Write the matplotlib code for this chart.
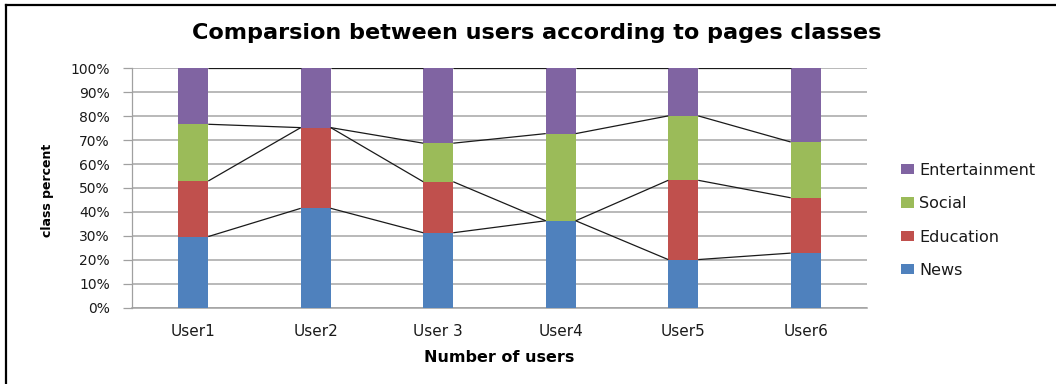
import matplotlib
matplotlib.use("Agg")
import matplotlib.pyplot as plt
from matplotlib.lines import Line2D
import numpy as np

# Share of visited pages per class (percent of each user's total)
users = ["User1", "User2", "User 3", "User4", "User5", "User6"]
news = [29.7, 41.5, 31.3, 36.3, 20.1, 22.8]
education = [23.2, 33.7, 21.3, 0.0, 33.1, 23.1]
social = [23.7, 0.0, 16.1, 36.4, 26.9, 23.3]
entertainment = [23.4, 24.8, 31.3, 27.3, 19.9, 30.8]

series_names = ["News", "Education", "Social", "Entertainment"]
series_colors = ["#4F81BD", "#C0504D", "#9BBB59", "#8064A2"]
y_ticks = [0, 10, 20, 30, 40, 50, 60, 70, 80, 90, 100]
y_tick_labels = [f"{t}%" for t in y_ticks]

fig = plt.figure(figsize=(10.56, 3.84), dpi=100)
ax = fig.add_axes([0.125, 0.1987, 0.696, 0.6236])

x = np.arange(len(users))
bar_w = 0.245
series = [news, education, social, entertainment]

# stacked columns
bottom = np.zeros(len(users))
tops = []
for vals, name, col in zip(series, series_names, series_colors):
    vals = np.asarray(vals, dtype=float)
    ax.bar(x, vals, bar_w, bottom=bottom, color=col, label=name, zorder=3,
           linewidth=0)
    bottom = bottom + vals
    tops.append(bottom.copy())

# series lines joining the top of each segment between neighbouring columns
for top in tops:
    for i in range(len(users) - 1):
        ax.plot([x[i] + bar_w / 2, x[i + 1] - bar_w / 2], [top[i], top[i + 1]],
                color="#1a1a1a", lw=0.9, zorder=4, solid_capstyle="butt")

ax.set_xlim(-0.5, len(users) - 0.5)
ax.set_ylim(0, 100)
ax.set_yticks(y_ticks)
ax.set_yticklabels(y_tick_labels, fontsize=10, family="DejaVu Sans", color="#1a1a1a")
ax.set_xticks(x)
ax.set_xticklabels(users, fontsize=11, family="DejaVu Sans", color="#1a1a1a")
ax.tick_params(axis="y", length=6.5, width=0.9, color="#a0a0a0", pad=9.5)
ax.tick_params(axis="x", length=0, pad=11.5)

ax.yaxis.grid(True, color="#a6a6a6", lw=1.1, zorder=0)
ax.set_axisbelow(True)
for side in ["top", "right"]:
    ax.spines[side].set_visible(False)
ax.spines["left"].set_color("#a0a0a0")
ax.spines["left"].set_linewidth(0.9)
ax.spines["bottom"].set_color("#a0a0a0")
ax.spines["bottom"].set_linewidth(1.1)

ax.set_xlabel("Number of users", fontsize=11.5, fontweight="bold",
              family="DejaVu Sans", va="center")
ax.xaxis.set_label_coords(0.5, -0.206)
ax.set_ylabel("class percent", fontsize=9, fontweight="bold",
              family="DejaVu Sans", va="center")
ax.yaxis.set_label_coords(-0.1156, 0.49)

fig.text(0.508, 0.8997, "Comparsion between users according to pages classes",
         ha="center", va="baseline", fontsize=16.1, fontweight="bold",
         family="DejaVu Sans")

handles, labels = ax.get_legend_handles_labels()
leg = fig.legend(handles[::-1], labels[::-1], loc="upper left",
                 bbox_to_anchor=(0.853, 0.576), frameon=False,
                 borderaxespad=0, borderpad=0, fontsize=11.5,
                 handlelength=0.8, handleheight=0.6, handletextpad=0.35,
                 labelspacing=1.15)
for t in leg.get_texts():
    t.set_color("#1a1a1a")

# outer frame (top and left edges)
fig.add_artist(Line2D([6 / 1056, 1.0], [1 - 5 / 384, 1 - 5 / 384],
                      transform=fig.transFigure, color="black", lw=1.6))
fig.add_artist(Line2D([6 / 1056, 6 / 1056], [0.0, 1 - 5 / 384],
                      transform=fig.transFigure, color="black", lw=1.6))

fig.savefig("out.png", dpi=100)
